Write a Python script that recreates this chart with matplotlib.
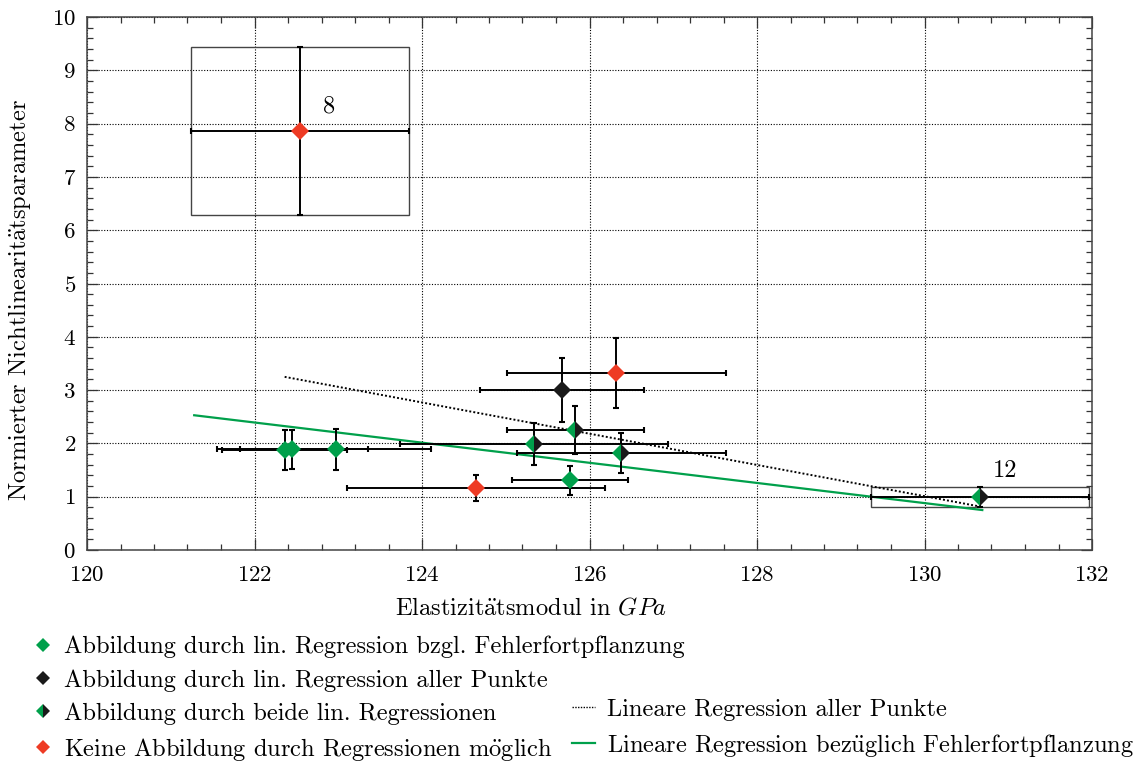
import numpy as np
import matplotlib
matplotlib.use('Agg')
import matplotlib.pyplot as plt
from matplotlib.lines import Line2D
from matplotlib.patches import Rectangle
from matplotlib.ticker import MultipleLocator

# Schrift: Computer Modern, Umlaute über Mathtext-Akzente
plt.rcParams['font.family'] = ['cmr10', 'DejaVu Serif']
plt.rcParams['mathtext.fontset'] = 'cm'
plt.rcParams['axes.formatter.use_mathtext'] = True
plt.rcParams['font.size'] = 16

AE = r'$\ddot{\mathrm{a}}$'
OE = r'$\ddot{\mathrm{o}}$'
UE = r'$\ddot{\mathrm{u}}$'

# Messwerte
E_modul = [122.36, 122.45, 122.97, 125.34, 125.83, 126.38, 125.77, 125.67, 126.32, 124.65, 122.54, 130.66]
E_fehler = [0.75, 0.90, 1.14, 1.60, 0.82, 1.25, 0.69, 0.98, 1.31, 1.54, 1.30, 1.30]
nl_param = [1.88, 1.89, 1.89, 1.99, 2.25, 1.82, 1.31, 3.00, 3.32, 1.16, 7.86, 0.99]
nl_fehler = [0.38, 0.37, 0.38, 0.39, 0.45, 0.37, 0.27, 0.60, 0.66, 0.25, 1.57, 0.19]
# g: Fehlerfortpflanzung, k: alle Punkte, h: beide, r: keine
gruppe = ['g', 'g', 'g', 'h', 'h', 'h', 'g', 'k', 'r', 'r', 'r', 'h']
nummer = {10: '8', 11: '12'}

# Regressionen (Steigung, Achsenabschnitt, x-Bereich)
reg_alle = (-0.293, 39.10, (122.36, 130.69))
reg_fehler = (-0.189, 25.45, (121.28, 130.69))

gruen = '#00A04B'
rot = '#EE3B24'
schwarz = '#1a1a1a'
fs = 17.6

fig = plt.figure(figsize=(11.44, 7.63), dpi=100)
ax = fig.add_axes([87/1144, 1-550/763, (1092-87)/1144, (550-17)/763])

# Regressionsgeraden
m, b, (x0, x1) = reg_alle
xs = np.array([x0, x1])
ax.plot(xs, m*xs + b, color='black', linestyle=(0, (1, 1.1)), linewidth=1.4, zorder=3)
m, b, (x0, x1) = reg_fehler
xs = np.array([x0, x1])
ax.plot(xs, m*xs + b, color=gruen, linewidth=1.6, zorder=3)

# Fehlerbalken
ax.errorbar(E_modul, nl_param, xerr=E_fehler, yerr=nl_fehler, fmt='none',
            ecolor='black', elinewidth=1.4, capsize=2.4, capthick=1.5, zorder=4)

# Kästen um Ausreißer
for i in nummer:
    ax.add_patch(Rectangle((E_modul[i]-E_fehler[i], nl_param[i]-nl_fehler[i]),
                           2*E_fehler[i], 2*nl_fehler[i], fill=False,
                           edgecolor='#444444', linewidth=1.0, zorder=2))

# Punkte
def marker_style(g, ms):
    if g == 'g':
        return dict(marker='D', color=gruen, markersize=ms, markeredgewidth=0, linestyle='none')
    if g == 'k':
        return dict(marker='D', color=schwarz, markersize=ms, markeredgewidth=0, linestyle='none')
    if g == 'r':
        return dict(marker='D', color=rot, markersize=ms, markeredgewidth=0, linestyle='none')
    return dict(marker='D', color=gruen, markerfacecolor=gruen, markerfacecoloralt=schwarz,
                fillstyle='left', markersize=ms, markeredgewidth=0, linestyle='none')

for x, y, g in zip(E_modul, nl_param, gruppe):
    ax.plot([x], [y], zorder=5, **marker_style(g, 8.8))

ax.annotate(nummer[10], (E_modul[10], nl_param[10]), xytext=(21, 18),
            textcoords='offset points', ha='center', va='center', fontsize=fs)
ax.annotate(nummer[11], (E_modul[11], nl_param[11]), xytext=(18, 19),
            textcoords='offset points', ha='center', va='center', fontsize=fs)

# Achsen
ax.set_xlim(120, 132)
ax.set_ylim(0, 10)
ax.set_xticks(np.arange(120, 133, 2))
ax.set_yticks(np.arange(0, 11, 1))
ax.xaxis.set_minor_locator(MultipleLocator(0.4))
ax.yaxis.set_minor_locator(MultipleLocator(0.2))
ax.tick_params(which='both', direction='in', top=True, right=True, width=0.9, color='#333333')
ax.tick_params(which='major', length=8, labelsize=16.5)
ax.tick_params(axis='x', which='major', pad=11)
ax.tick_params(axis='y', which='major', pad=8)
ax.tick_params(which='minor', length=4.5)
for s in ax.spines.values():
    s.set_color('#444444')
    s.set_linewidth(1.1)
ax.grid(True, which='major', linestyle=(0, (1, 1.5)), color='black', linewidth=0.8)
ax.set_axisbelow(True)

fig.text(531/1144, 1-608/763, 'Elastizit' + AE + r'tsmodul in $GPa$',
         ha='center', va='center', fontsize=fs)
fig.text(20/1144, 1-300/763, 'Normierter Nichtlinearit' + AE + 'tsparameter', rotation=90,
         ha='center', va='center', fontsize=fs)

# Legenden
h1 = [Line2D([], [], **marker_style(g, 7.5)) for g in ['g', 'k', 'h', 'r']]
l1 = ['Abbildung durch lin. Regression bzgl. Fehlerfortpflanzung',
      'Abbildung durch lin. Regression aller Punkte',
      'Abbildung durch beide lin. Regressionen',
      'Keine Abbildung durch Regressionen m' + OE + 'glich']
leg1 = fig.legend(h1, l1, loc='upper left', bbox_to_anchor=(31/1144, 1-636/763),
                  frameon=False, borderpad=0, borderaxespad=0, handlelength=0.95,
                  handletextpad=0.4, labelspacing=0.44, fontsize=fs)
h2 = [Line2D([], [], color='black', linestyle=(0, (1, 1)), linewidth=1.0),
      Line2D([], [], color=gruen, linewidth=1.6)]
l2 = ['Lineare Regression aller Punkte', 'Lineare Regression bez' + UE + 'glich Fehlerfortpflanzung']
leg2 = fig.legend(h2, l2, loc='lower left', bbox_to_anchor=(572/1144, 1-759/763),
                  frameon=False, borderpad=0, borderaxespad=0, handlelength=0.95,
                  handletextpad=0.5, labelspacing=0.45, fontsize=fs)

fig.savefig('out.png', dpi=100)
